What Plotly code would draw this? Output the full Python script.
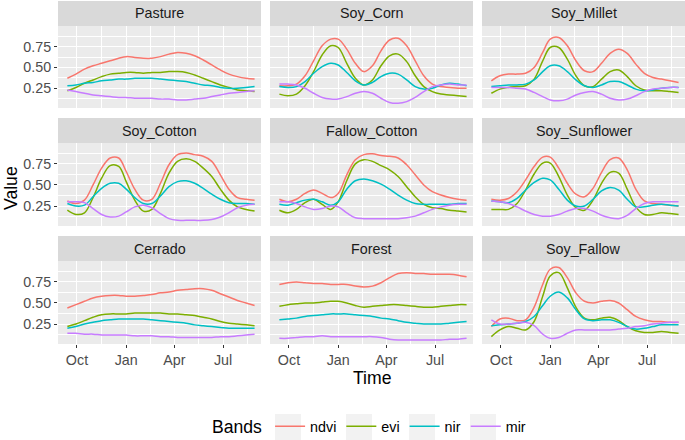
import plotly.graph_objects as go
from plotly.subplots import make_subplots

# MODIS 16-day dates
dates = ['2000-09-13', '2000-09-29', '2000-10-15', '2000-10-31', '2000-11-16', '2000-12-02',
         '2000-12-18', '2001-01-01', '2001-01-17', '2001-02-02', '2001-02-18', '2001-03-06',
         '2001-03-22', '2001-04-07', '2001-04-23', '2001-05-09', '2001-05-25', '2001-06-10',
         '2001-06-26', '2001-07-12', '2001-07-28', '2001-08-13', '2001-08-29']

bands = ['ndvi', 'evi', 'nir', 'mir']
band_colors = ['#F8766D', '#7CAE00', '#00BFC4', '#C77CFF']
classes = ['Pasture', 'Soy_Corn', 'Soy_Millet', 'Soy_Cotton', 'Fallow_Cotton',
           'Soy_Sunflower', 'Cerrado', 'Forest', 'Soy_Fallow']

# values
pasture_ndvi = [0.37, 0.42, 0.48, 0.52, 0.55, 0.58, 0.61, 0.63, 0.62, 0.61, 0.61, 0.63, 0.66, 0.68, 0.67, 0.64, 0.59, 0.53, 0.47, 0.42, 0.39, 0.37, 0.36]
pasture_evi = [0.22, 0.26, 0.31, 0.35, 0.39, 0.42, 0.43, 0.44, 0.44, 0.43, 0.44, 0.44, 0.45, 0.45, 0.44, 0.41, 0.37, 0.33, 0.29, 0.26, 0.23, 0.22, 0.21]
pasture_nir = [0.28, 0.29, 0.31, 0.32, 0.34, 0.35, 0.36, 0.36, 0.37, 0.37, 0.37, 0.36, 0.35, 0.34, 0.33, 0.31, 0.29, 0.28, 0.26, 0.25, 0.25, 0.26, 0.27]
pasture_mir = [0.23, 0.21, 0.19, 0.17, 0.16, 0.15, 0.14, 0.14, 0.13, 0.13, 0.13, 0.12, 0.12, 0.11, 0.11, 0.12, 0.13, 0.15, 0.17, 0.19, 0.20, 0.21, 0.22]

soycorn_ndvi = [0.28, 0.28, 0.30, 0.40, 0.58, 0.76, 0.84, 0.84, 0.72, 0.55, 0.45, 0.52, 0.70, 0.83, 0.85, 0.76, 0.58, 0.40, 0.30, 0.27, 0.26, 0.25, 0.25]
soycorn_evi = [0.18, 0.16, 0.18, 0.28, 0.45, 0.65, 0.76, 0.74, 0.55, 0.37, 0.29, 0.35, 0.52, 0.64, 0.66, 0.57, 0.40, 0.27, 0.21, 0.18, 0.17, 0.16, 0.15]
soycorn_nir = [0.27, 0.26, 0.27, 0.33, 0.43, 0.51, 0.55, 0.53, 0.44, 0.34, 0.29, 0.32, 0.39, 0.43, 0.42, 0.35, 0.27, 0.24, 0.25, 0.29, 0.31, 0.30, 0.28]
soycorn_mir = [0.30, 0.30, 0.29, 0.25, 0.19, 0.14, 0.12, 0.12, 0.15, 0.19, 0.21, 0.19, 0.13, 0.08, 0.07, 0.09, 0.14, 0.21, 0.27, 0.29, 0.30, 0.29, 0.29]

soymillet_ndvi = [0.34, 0.40, 0.42, 0.42, 0.43, 0.50, 0.68, 0.84, 0.86, 0.76, 0.58, 0.46, 0.45, 0.55, 0.67, 0.72, 0.67, 0.54, 0.43, 0.38, 0.36, 0.34, 0.32]
soymillet_evi = [0.19, 0.24, 0.26, 0.27, 0.28, 0.36, 0.58, 0.74, 0.74, 0.60, 0.40, 0.28, 0.27, 0.36, 0.45, 0.47, 0.39, 0.28, 0.23, 0.22, 0.22, 0.21, 0.20]
soymillet_nir = [0.27, 0.28, 0.29, 0.29, 0.30, 0.35, 0.45, 0.52, 0.52, 0.45, 0.35, 0.28, 0.26, 0.29, 0.33, 0.33, 0.29, 0.24, 0.22, 0.23, 0.25, 0.26, 0.26]
soymillet_mir = [0.26, 0.26, 0.26, 0.25, 0.24, 0.20, 0.15, 0.11, 0.10, 0.12, 0.17, 0.20, 0.21, 0.18, 0.13, 0.11, 0.12, 0.16, 0.21, 0.24, 0.25, 0.26, 0.26]

soycotton_ndvi = [0.31, 0.28, 0.32, 0.50, 0.70, 0.82, 0.82, 0.66, 0.45, 0.32, 0.33, 0.52, 0.74, 0.86, 0.88, 0.86, 0.84, 0.78, 0.62, 0.45, 0.35, 0.33, 0.32]
soycotton_evi = [0.20, 0.15, 0.17, 0.35, 0.58, 0.73, 0.72, 0.54, 0.32, 0.19, 0.21, 0.40, 0.64, 0.78, 0.81, 0.78, 0.70, 0.60, 0.45, 0.32, 0.24, 0.21, 0.19]
soycotton_nir = [0.28, 0.25, 0.26, 0.36, 0.46, 0.52, 0.52, 0.45, 0.35, 0.28, 0.28, 0.37, 0.48, 0.54, 0.55, 0.52, 0.46, 0.39, 0.33, 0.29, 0.28, 0.28, 0.27]
soycotton_mir = [0.30, 0.30, 0.29, 0.22, 0.15, 0.12, 0.13, 0.18, 0.24, 0.26, 0.23, 0.16, 0.10, 0.08, 0.08, 0.08, 0.08, 0.09, 0.12, 0.17, 0.23, 0.26, 0.27]

fallowcotton_ndvi = [0.33, 0.30, 0.33, 0.40, 0.44, 0.40, 0.35, 0.40, 0.62, 0.80, 0.86, 0.87, 0.85, 0.84, 0.82, 0.74, 0.62, 0.50, 0.42, 0.38, 0.35, 0.33, 0.32]
fallowcotton_evi = [0.20, 0.17, 0.21, 0.29, 0.33, 0.27, 0.21, 0.30, 0.55, 0.75, 0.80, 0.78, 0.73, 0.68, 0.60, 0.48, 0.36, 0.27, 0.23, 0.22, 0.20, 0.19, 0.18]
fallowcotton_nir = [0.27, 0.26, 0.29, 0.32, 0.33, 0.30, 0.26, 0.30, 0.45, 0.55, 0.57, 0.55, 0.51, 0.45, 0.38, 0.32, 0.28, 0.27, 0.27, 0.27, 0.27, 0.28, 0.28]
fallowcotton_mir = [0.30, 0.30, 0.28, 0.24, 0.21, 0.22, 0.25, 0.24, 0.17, 0.11, 0.10, 0.10, 0.10, 0.10, 0.10, 0.11, 0.13, 0.17, 0.21, 0.24, 0.26, 0.27, 0.27]

soysunflower_ndvi = [0.33, 0.32, 0.34, 0.42, 0.56, 0.72, 0.83, 0.83, 0.70, 0.52, 0.39, 0.36, 0.46, 0.65, 0.80, 0.82, 0.68, 0.45, 0.31, 0.28, 0.27, 0.26, 0.25]
soysunflower_evi = [0.21, 0.21, 0.21, 0.28, 0.44, 0.63, 0.76, 0.76, 0.60, 0.38, 0.23, 0.20, 0.32, 0.52, 0.65, 0.64, 0.45, 0.24, 0.15, 0.15, 0.17, 0.16, 0.15]
soysunflower_nir = [0.31, 0.30, 0.29, 0.34, 0.44, 0.53, 0.58, 0.56, 0.45, 0.32, 0.25, 0.25, 0.33, 0.43, 0.47, 0.44, 0.33, 0.24, 0.24, 0.26, 0.27, 0.26, 0.25]
soysunflower_mir = [0.31, 0.30, 0.28, 0.24, 0.19, 0.15, 0.13, 0.13, 0.15, 0.19, 0.22, 0.22, 0.19, 0.14, 0.11, 0.10, 0.14, 0.22, 0.28, 0.30, 0.30, 0.30, 0.30]

cerrado_ndvi = [0.44, 0.48, 0.52, 0.56, 0.58, 0.59, 0.59, 0.58, 0.58, 0.59, 0.60, 0.62, 0.63, 0.65, 0.66, 0.67, 0.67, 0.65, 0.61, 0.57, 0.53, 0.50, 0.47]
cerrado_evi = [0.22, 0.25, 0.29, 0.33, 0.36, 0.37, 0.37, 0.37, 0.38, 0.38, 0.38, 0.38, 0.37, 0.37, 0.36, 0.35, 0.33, 0.31, 0.28, 0.26, 0.25, 0.24, 0.23]
cerrado_nir = [0.20, 0.22, 0.25, 0.27, 0.29, 0.30, 0.31, 0.31, 0.31, 0.31, 0.30, 0.29, 0.28, 0.27, 0.26, 0.24, 0.23, 0.22, 0.21, 0.20, 0.20, 0.20, 0.20]
cerrado_mir = [0.14, 0.14, 0.13, 0.13, 0.12, 0.12, 0.12, 0.12, 0.11, 0.11, 0.11, 0.10, 0.10, 0.09, 0.09, 0.09, 0.09, 0.09, 0.10, 0.10, 0.11, 0.12, 0.13]

forest_ndvi = [0.72, 0.74, 0.75, 0.74, 0.73, 0.73, 0.72, 0.72, 0.72, 0.70, 0.69, 0.70, 0.74, 0.80, 0.85, 0.86, 0.85, 0.85, 0.84, 0.84, 0.84, 0.83, 0.81]
forest_evi = [0.46, 0.48, 0.49, 0.50, 0.50, 0.51, 0.52, 0.52, 0.50, 0.47, 0.45, 0.46, 0.47, 0.48, 0.48, 0.47, 0.46, 0.45, 0.45, 0.46, 0.47, 0.48, 0.48]
forest_nir = [0.30, 0.31, 0.32, 0.34, 0.35, 0.36, 0.37, 0.37, 0.37, 0.36, 0.35, 0.34, 0.32, 0.31, 0.29, 0.27, 0.26, 0.25, 0.25, 0.25, 0.26, 0.27, 0.28]
forest_mir = [0.08, 0.08, 0.09, 0.10, 0.10, 0.11, 0.10, 0.10, 0.10, 0.10, 0.10, 0.10, 0.09, 0.07, 0.06, 0.06, 0.06, 0.06, 0.06, 0.06, 0.07, 0.07, 0.08]

soyfallow_ndvi = [0.22, 0.31, 0.32, 0.29, 0.30, 0.45, 0.72, 0.90, 0.92, 0.80, 0.62, 0.52, 0.50, 0.52, 0.53, 0.50, 0.42, 0.34, 0.30, 0.28, 0.28, 0.27, 0.27]
soyfallow_evi = [0.10, 0.18, 0.22, 0.20, 0.18, 0.28, 0.58, 0.82, 0.86, 0.68, 0.45, 0.32, 0.30, 0.32, 0.33, 0.29, 0.22, 0.17, 0.15, 0.15, 0.16, 0.15, 0.14]
soyfallow_nir = [0.23, 0.24, 0.25, 0.26, 0.28, 0.34, 0.47, 0.58, 0.63, 0.56, 0.42, 0.31, 0.29, 0.30, 0.30, 0.27, 0.22, 0.19, 0.20, 0.22, 0.24, 0.24, 0.24]
soyfallow_mir = [0.30, 0.25, 0.25, 0.26, 0.27, 0.23, 0.13, 0.08, 0.09, 0.14, 0.18, 0.18, 0.18, 0.18, 0.18, 0.19, 0.20, 0.22, 0.23, 0.25, 0.26, 0.27, 0.27]

panel_data = [
    [pasture_ndvi, pasture_evi, pasture_nir, pasture_mir],
    [soycorn_ndvi, soycorn_evi, soycorn_nir, soycorn_mir],
    [soymillet_ndvi, soymillet_evi, soymillet_nir, soymillet_mir],
    [soycotton_ndvi, soycotton_evi, soycotton_nir, soycotton_mir],
    [fallowcotton_ndvi, fallowcotton_evi, fallowcotton_nir, fallowcotton_mir],
    [soysunflower_ndvi, soysunflower_evi, soysunflower_nir, soysunflower_mir],
    [cerrado_ndvi, cerrado_evi, cerrado_nir, cerrado_mir],
    [forest_ndvi, forest_evi, forest_nir, forest_mir],
    [soyfallow_ndvi, soyfallow_evi, soyfallow_nir, soyfallow_mir],
]

W, H = 685, 440
FONT = 'Liberation Sans'
SMALL, BIG = 14.3, 17.6   # ggplot 8.8pt / 11pt at this scale

# panel boxes in pixels
col_px = [(58, 261), (270, 473), (482, 685)]
row_px = [(26, 108), (143, 226), (261, 344)]   # panel top/bottom
strip_h = 25
legend_key_px = [288, 359, 422, 483]   # centres of the grey legend key boxes

fig = make_subplots(rows=3, cols=3)

for i, cls in enumerate(classes):
    r, c = i // 3 + 1, i % 3 + 1
    for b, band in enumerate(bands):
        fig.add_trace(go.Scatter(
            x=dates, y=panel_data[i][b], mode='lines', name=band,
            line=dict(color=band_colors[b], width=1.5, shape='spline', smoothing=1.0),
            legendgroup=band, showlegend=(i == 0)), row=r, col=c)

for i, cls in enumerate(classes):
    r, c = i // 3, i % 3
    x0, x1 = col_px[c]
    y0, y1 = row_px[r]
    n = '' if i == 0 else str(i + 1)
    fig.layout['xaxis' + n].update(
        domain=[x0 / W, x1 / W], type='date', automargin=False,
        range=['2000-08-26 12:00', '2001-09-10'],
        tickvals=['2000-10-01', '2001-01-01', '2001-04-01', '2001-07-01'],
        ticktext=['Oct', 'Jan', 'Apr', 'Jul'],
        showticklabels=(r == 2), ticks='outside' if r == 2 else '',
        ticklen=3, tickwidth=1, tickcolor='#333333',
        tickfont=dict(family=FONT, size=SMALL, color='#4D4D4D'),
        showgrid=True, gridcolor='white', gridwidth=1.1, zeroline=False,
        minor=dict(tickvals=['2000-08-16', '2000-11-15 12:00', '2001-02-15', '2001-05-16', '2001-08-16'],
                   showgrid=True, gridcolor='white', gridwidth=0.5, ticks=''),
        showline=False)
    fig.layout['yaxis' + n].update(
        domain=[1 - y1 / H, 1 - y0 / H], range=[0.013, 0.998], automargin=False,
        tickvals=[0.25, 0.5, 0.75], ticktext=['0.25', '0.50', '0.75'],
        showticklabels=(c == 0), ticks='outside' if c == 0 else '',
        ticklen=3, tickwidth=1, tickcolor='#333333',
        tickfont=dict(family=FONT, size=SMALL, color='#4D4D4D'),
        showgrid=True, gridcolor='white', gridwidth=1.1, zeroline=False,
        minor=dict(tickvals=[0.125, 0.375, 0.625, 0.875], showgrid=True,
                   gridcolor='white', gridwidth=0.5, ticks=''),
        showline=False)
    # strip
    fig.add_shape(type='rect', xref='paper', yref='paper',
                  x0=x0 / W, x1=x1 / W, y0=1 - y0 / H, y1=1 - (y0 - strip_h) / H,
                  fillcolor='#D9D9D9', line_width=0, layer='below')
    fig.add_annotation(text=cls, xref='paper', yref='paper',
                       x=(x0 + x1) / 2 / W, y=1 - (y0 - strip_h / 2) / H,
                       showarrow=False, xanchor='center', yanchor='middle',
                       font=dict(family=FONT, size=SMALL, color='#1A1A1A'))

# grey key backgrounds like ggplot's legend.key
for kx in legend_key_px:
    fig.add_shape(type='rect', xref='paper', yref='paper',
                  x0=(kx - 13) / W, x1=(kx + 13) / W, y0=1 - 440 / H, y1=1 - 414 / H,
                  fillcolor='#F2F2F2', line_width=0, layer='below')

fig.add_annotation(text='Value', xref='paper', yref='paper', x=0, y=1 - 188 / H,
                   textangle=-90, showarrow=False, xanchor='left', yanchor='middle',
                   borderpad=0, font=dict(family=FONT, size=BIG, color='black'))
fig.add_annotation(text='Time', xref='paper', yref='paper', x=(58 + 685) / 2 / W, y=1 - 378 / H,
                   showarrow=False, xanchor='center', yanchor='middle', borderpad=0,
                   font=dict(family=FONT, size=BIG, color='black'))

fig.update_layout(
    width=W, height=H,
    margin=dict(l=0, r=0, t=0, b=0, autoexpand=False),
    paper_bgcolor='white', plot_bgcolor='#EBEBEB',
    font=dict(family=FONT),
    legend=dict(orientation='h', x=210 / W, xanchor='left', y=1 - 427 / H, yanchor='middle',
                title=dict(text='Bands', font=dict(family=FONT, size=BIG, color='black')),
                font=dict(family=FONT, size=SMALL, color='black'),
                itemwidth=30, bgcolor='rgba(0,0,0,0)'),
)

# drop the default 8px page margin so the figure fills the window
fig.write_html("out.html", config={'displayModeBar': False},
               post_script="document.body.style.margin='0px';")
